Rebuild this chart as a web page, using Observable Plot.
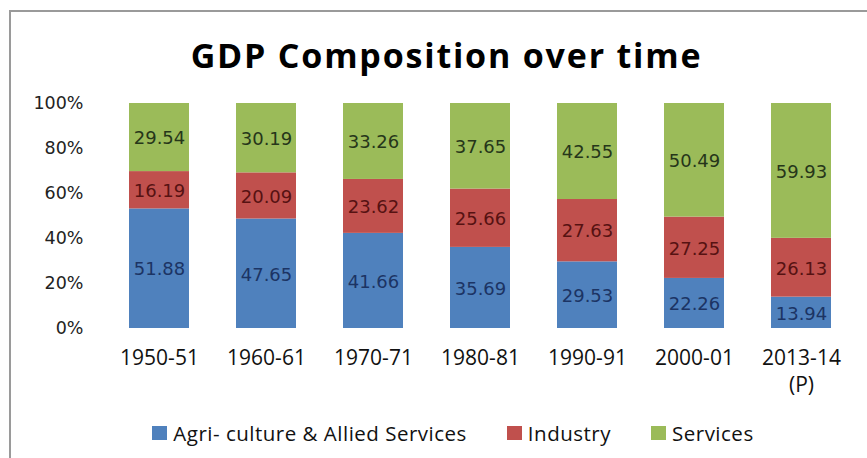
<!DOCTYPE html>
<html>
<head>
<meta charset="utf-8">
<script src="https://cdn.jsdelivr.net/npm/d3@7"></script>
<script src="https://cdn.jsdelivr.net/npm/@observablehq/plot@0.6"></script>
<style>
  html, body { margin: 0; padding: 0; background: #fff; }
  #wrap { position: relative; width: 867px; height: 458px; overflow: hidden; background: #fff; }
  #frame { position: absolute; left: 9px; top: 10px; width: 900px; height: 500px; border-left: 2px solid #9a9a9a; border-top: 2px solid #9a9a9a; box-sizing: border-box; }
  #title { position: absolute; left: 0; width: 893px; top: 33px; text-align: center; font-family: "Open Sans", Lato, sans-serif; font-weight: 700; font-size: 34px; letter-spacing: 1.8px; color: #000; line-height: 44px; white-space: nowrap; }
  #chart { position: absolute; left: 0; top: 80px; }
  #legend { position: absolute; left: 0; width: 906px; top: 420px; display: flex; justify-content: center; align-items: center; font-family: "Open Sans", Lato, sans-serif; font-size: 20.5px; letter-spacing: 0.5px; color: #111; line-height: 26px; white-space: nowrap; }
  .item { display: inline-flex; align-items: center; margin: 0 20px; }
  .sw { display: inline-block; width: 15px; height: 14px; margin-right: 6px; }
</style>
</head>
<body>
<div id="wrap">
  <div id="frame"></div>
  <div id="title">GDP Composition over time</div>
  <div id="chart"></div>
  <div id="legend"></div>
</div>
<script>
const years = ["1950-51", "1960-61", "1970-71", "1980-81", "1990-91", "2000-01", "2013-14"];
const yearLabels = ["1950-51", "1960-61", "1970-71", "1980-81", "1990-91", "2000-01", "2013-14\n(P)"];
const sectors = ["Agri- culture & Allied Services", "Industry", "Services"];
const agriculture = [51.88, 47.65, 41.66, 35.69, 29.53, 22.26, 13.94];
const industry = [16.19, 20.09, 23.62, 25.66, 27.63, 27.25, 26.13];
const services = [29.54, 30.19, 33.26, 37.65, 42.55, 50.49, 59.93];
const yTicks = [0, 0.2, 0.4, 0.6, 0.8, 1];

const barColors = ["#4f81bd", "#c0504d", "#9bbb59"];
const textColors = ["#1c3464", "#561212", "#26361a"];

const series = [agriculture, industry, services];
const data = [];
years.forEach((yr, i) => {
  sectors.forEach((s, k) => data.push({year: yr, sector: s, k, value: series[k][i]}));
});

const stackOpts = {x: "year", y: "value", z: "sector", offset: "normalize"};

const chart = Plot.plot({
  width: 867,
  height: 330,
  marginTop: 23,
  marginBottom: 82,
  marginLeft: 104,
  marginRight: 11,
  style: {background: "transparent", overflow: "visible"},
  x: {domain: years, paddingInner: 0.44, paddingOuter: 0.22, label: null},
  y: {domain: [0, 1], label: null},
  color: {type: "identity"},
  marks: [
    Plot.gridY(yTicks, {stroke: "#8a8a8a", strokeOpacity: 1, strokeWidth: 1.2, x1: 103, x2: 858}),
    Plot.barY(data, Plot.stackY({...stackOpts, fill: d => barColors[d.k], inset: 0})),
    Plot.text(data, Plot.stackY({...stackOpts, text: d => d.value.toFixed(2), fill: d => textColors[d.k],
      fontFamily: "DejaVu Sans, Verdana, sans-serif", fontSize: 18, dy: 1, style: "letter-spacing:0.6px"})),
    Plot.axisY({ticks: yTicks, tickFormat: d => Math.round(d * 100) + "%", tickSize: 0, tickPadding: 21,
      fontFamily: "DejaVu Sans, Verdana, sans-serif", fontSize: 17.5, fill: "#222"}),
    Plot.axisX({tickSize: 0, tickPadding: 17, tickFormat: (d, i) => yearLabels[years.indexOf(d)],
      fontFamily: "Open Sans, Lato, sans-serif", fontSize: 21, fill: "#111", lineHeight: 1.29})
  ]
});
document.getElementById("chart").appendChild(chart);

const legend = document.getElementById("legend");
sectors.forEach((s, k) => {
  const it = document.createElement("span");
  it.className = "item";
  it.innerHTML = `<span class="sw" style="background:${barColors[k]}"></span><span>${s}</span>`;
  legend.appendChild(it);
});
</script>
</body>
</html>
